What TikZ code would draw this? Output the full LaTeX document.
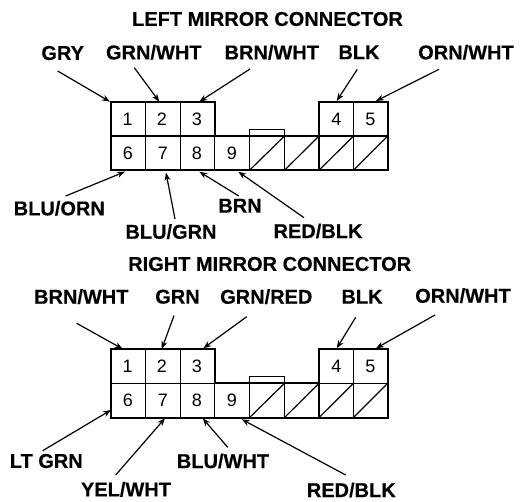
\documentclass[tikz,border=0pt]{standalone}
\usepackage{fontspec}
\setmainfont{Liberation Sans}
\newfontfamily\lblfont[UprightFont=* Bold,FakeBold=0.3]{Liberation Sans}
\usetikzlibrary{arrows.meta}
\tikzset{
 lbl/.style={font=\lblfont\fontsize{20}{20}\selectfont,inner sep=0pt,text=black},
 ttl/.style={font=\lblfont\fontsize{20}{20}\selectfont,inner sep=0pt,text=black},
 num/.style={font=\fontsize{18}{18}\selectfont,inner sep=0pt},
 lead/.style={line width=1.2pt,-{Stealth[length=8pt,width=6pt]}},
 thick outline/.style={line width=2pt,line join=miter},
 thin line/.style={line width=1.2pt},
}
\newcommand{\connector}[2]{%
 \begin{scope}[yshift=#1,name prefix=#2]
 \foreach \n/\x in {1/127.6,2/162,3/197,4/336.3,5/370.5}{\node[num] (n\n) at (\x,119) {\n};}
 \foreach \n/\x in {6/128,7/163,8/197,9/232}{\node[num] (n\n) at (\x,153.3) {\n};}
 \foreach \x in {145.5,180.5}{\draw[thin line] (\x,101.7)--(\x,170.3);}
 \foreach \x in {214.7,249.5,284.5,319,353.5}{\draw[thin line] (\x,136)--(\x,170.3);}
 \draw[thin line] (353.5,101.7)--(353.5,136);
 \draw[thin line] (110.7,136)--(387.7,136);
 \foreach \a/\b in {249.5/284.5,284.5/319,319/353.5,353.5/387.7}{\draw[thin line] (\a,170.3)--(\b,136);}
 \draw[line width=1.5pt] (249.5,136)--(249.5,129.3)--(284.5,129.3)--(284.5,136);
 \draw[thick outline] (110.7,101.7)--(214.7,101.7)--(214.7,136)--(319,136)--(319,101.7)--(387.7,101.7)--(387.7,170.3)--(110.7,170.3)--cycle;
 \end{scope}}
\begin{document}
\begin{tikzpicture}[x=1pt,y=-1pt]
\useasboundingbox (0,0) rectangle (520,502);
\fill[white] (0,0) rectangle (520,502);
\node[ttl] (t1) at (267.5,19) {LEFT MIRROR CONNECTOR};
\node[ttl] (t2) at (269.7,264) {RIGHT MIRROR CONNECTOR};
\connector{0pt}{a}
\connector{-247.3pt}{b}
\node[lbl] (a) at (62.7,53) {GRY};
\node[lbl] (b) at (153.8,52.3) {GRN/WHT};
\node[lbl] (c) at (271.8,52.3) {BRN/WHT};
\node[lbl] (d) at (359,52.3) {BLK};
\node[lbl] (e) at (466,52.3) {ORN/WHT};
\node[lbl] (f) at (59.3,208.3) {BLU/ORN};
\node[lbl] (g) at (171,231.7) {BLU/GRN};
\node[lbl] (h) at (240,205.7) {BRN};
\node[lbl] (i) at (318,231) {RED/BLK};
\node[lbl] (j) at (81.3,296.7) {BRN/WHT};
\node[lbl] (k) at (177.5,296.7) {GRN};
\node[lbl] (l) at (266.3,296.7) {GRN/RED};
\node[lbl] (m) at (362,296.7) {BLK};
\node[lbl] (o) at (463,295.7) {ORN/WHT};
\node[lbl] (p) at (46.3,461) {LT GRN};
\node[lbl] (q) at (126,489.3) {YEL/WHT};
\node[lbl] (r) at (223,461) {BLU/WHT};
\node[lbl] (s) at (351.3,490) {RED/BLK};
\foreach \n/\ax/\ay/\bx/\by in {
 1/57.7/71/110/101.7, 2/134.3/67.7/159.3/101.7, 3/250/69/199.3/101.7, 4/357.3/69.3/336.7/101, 5/439/69.3/376/101,
 6/65.7/196/125/171.7, 7/175/219/166/172.7, 8/238.7/196/199.3/171.7, 9/304/217.7/238.3/171.7,
 10/76.7/323.3/122.7/349, 11/174/315.7/161.7/349, 12/246.7/316.7/203.3/348.3, 13/355.7/317.3/336.7/348.3, 14/435/315/376/348.3,
 15/42.7/450.7/111/410, 16/115.7/475/165/418.3, 17/227.7/447.3/202.7/418.3, 18/345.7/475/241.7/419.3}{
 \coordinate (s\n) at (\ax,\ay); \coordinate (e\n) at (\bx,\by);
 \draw[lead] (s\n)--(e\n);
}
\end{tikzpicture}
\end{document}
